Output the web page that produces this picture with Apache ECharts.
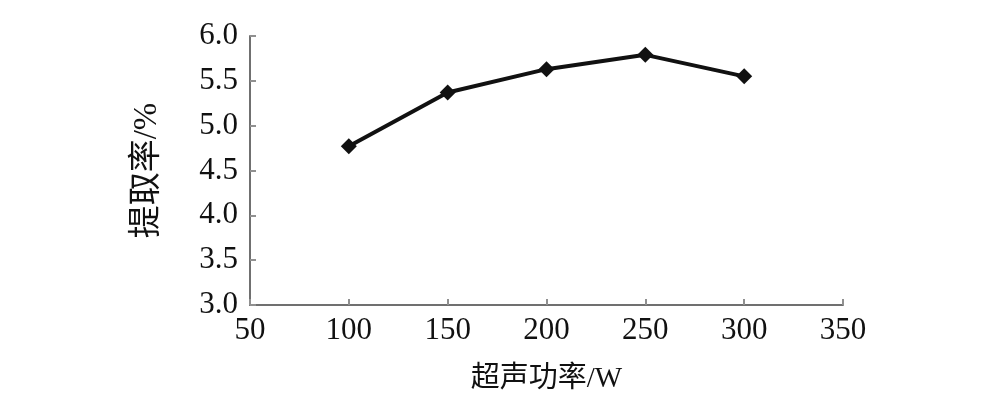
<!DOCTYPE html>
<html>
<head>
<meta charset="utf-8">
<script src="https://cdn.jsdelivr.net/npm/echarts@6/dist/echarts.min.js"></script>
<style>html,body{margin:0;padding:0;background:#fff}#c{width:999px;height:407px}</style>
</head>
<body>
<div id="c"></div>
<script>
var powers = [100, 150, 200, 250, 300];
var yields = [4.77, 5.37, 5.63, 5.79, 5.55];
var xName = '超声功率/W';
var yName = '提取率/%';
var FONT = "'Liberation Serif', 'Times New Roman', 'Noto Sans CJK SC', serif";

var chart = echarts.init(document.getElementById('c'), null, {renderer: 'canvas'});
var axisLine = {show: true, lineStyle: {color: '#707070', width: 2}};
chart.setOption({
  animation: false,
  backgroundColor: '#fff',
  grid: {left: 250, right: 156, top: 36, bottom: 102, containLabel: false},
  xAxis: {
    type: 'value', min: 50, max: 350, interval: 50,
    name: xName, nameLocation: 'middle', nameGap: 60,
    nameTextStyle: {fontFamily: FONT, fontSize: 29, color: '#111'},
    axisLine: axisLine,
    axisTick: {show: true, inside: true, length: 6, lineStyle: {color: '#909090', width: 2}},
    axisLabel: {fontFamily: FONT, fontSize: 31, color: '#111', margin: 10},
    splitLine: {show: false}
  },
  yAxis: {
    type: 'value', min: 3.0, max: 6.0, interval: 0.5,
    name: yName, nameLocation: 'middle', nameGap: 86, nameRotate: 90,
    nameTextStyle: {fontFamily: FONT, fontSize: 33, color: '#111'},
    axisLine: axisLine,
    axisTick: {show: true, inside: true, length: 6, lineStyle: {color: '#909090', width: 2}},
    axisLabel: {fontFamily: FONT, fontSize: 31, color: '#111', margin: 12,
      formatter: function (v) { return v.toFixed(1); }},
    splitLine: {show: false}
  },
  series: [{
    type: 'line',
    data: powers.map(function (p, i) { return [p, yields[i]]; }),
    symbol: 'diamond', symbolSize: 16,
    lineStyle: {color: '#111', width: 4},
    itemStyle: {color: '#111'}
  }]
});
</script>
</body>
</html>
